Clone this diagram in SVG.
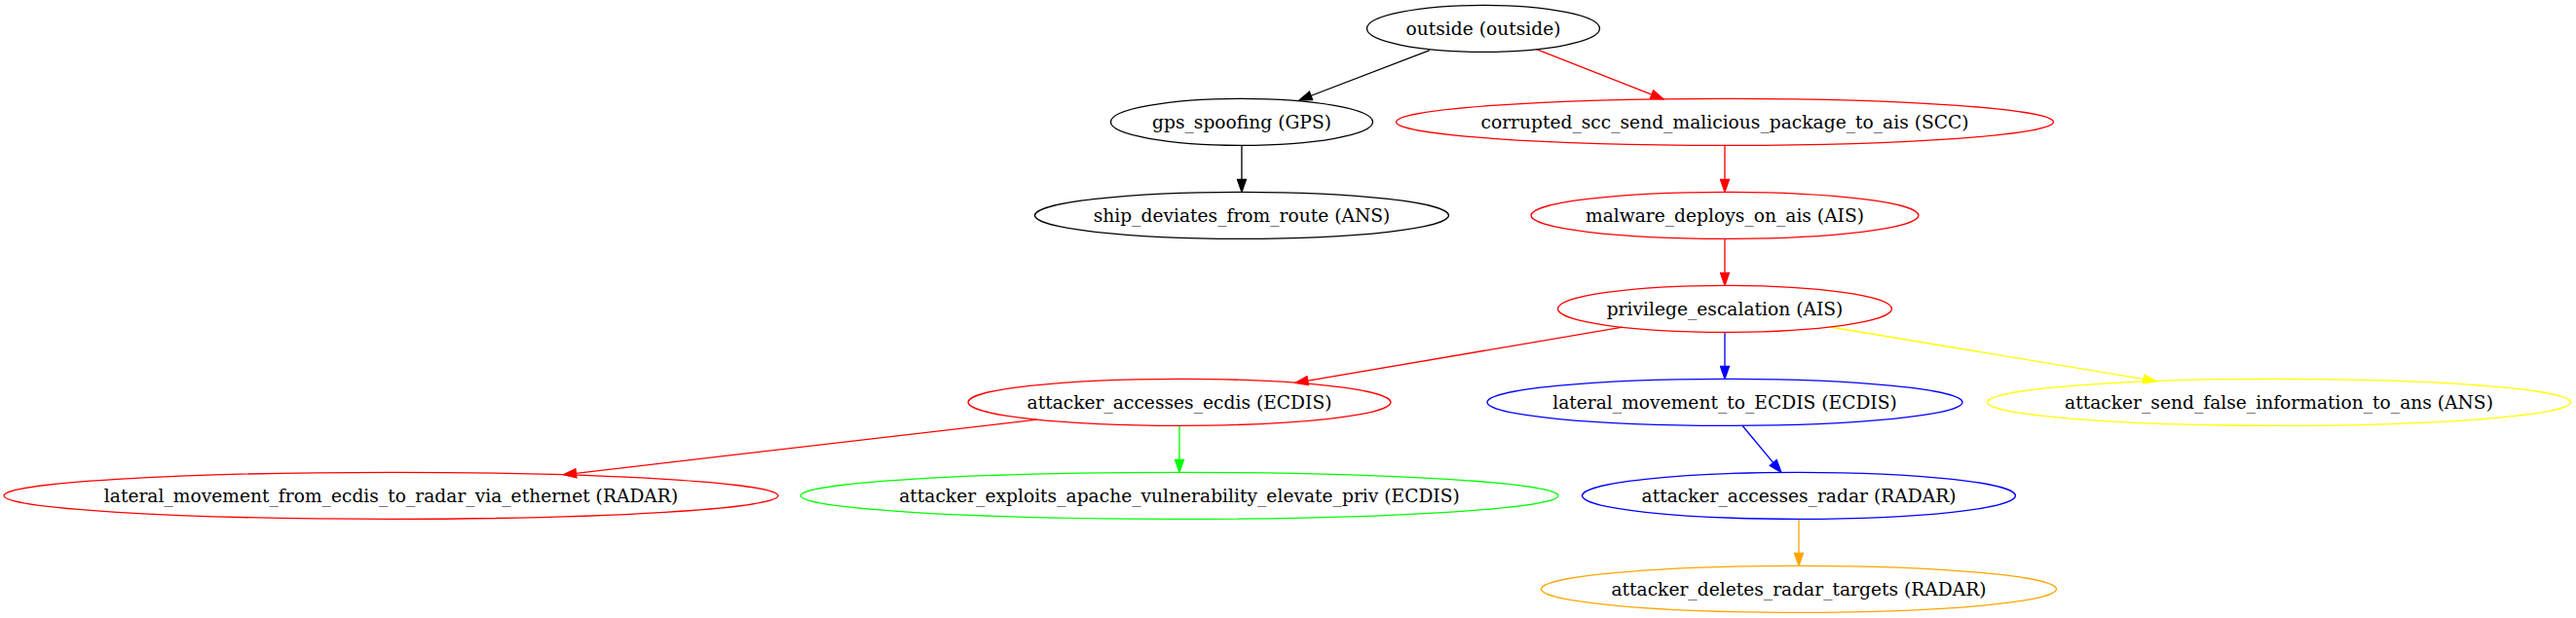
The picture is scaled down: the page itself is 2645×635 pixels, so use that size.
<svg xmlns="http://www.w3.org/2000/svg" width="2645" height="635" viewBox="0 0 2645 635">
<style>
  .n ellipse { fill: none; stroke-width: 1.33; }
  .n text { font-family: "DejaVu Serif", serif; font-size: 18.67px; text-anchor: middle; fill: #000; }
  .e { fill: none; stroke-width: 1.33; }
  .black { stroke: #000; }
  .red { stroke: #ff0000; }
  .green { stroke: #00ff00; }
  .blue { stroke: #0000ff; }
  .yellow { stroke: #ffff00; }
  .orange { stroke: #ffa500; }
</style>
<defs>
  <marker id="a-black" markerUnits="userSpaceOnUse" markerWidth="15" markerHeight="11" viewBox="-1 -1 15.33 11.33" refX="13.33" refY="4.67" orient="auto"><path d="M0,0 L13.33,4.67 L0,9.33 z" fill="#000" stroke="#000" stroke-width="1.33"/></marker>
  <marker id="a-red" markerUnits="userSpaceOnUse" markerWidth="15" markerHeight="11" viewBox="-1 -1 15.33 11.33" refX="13.33" refY="4.67" orient="auto"><path d="M0,0 L13.33,4.67 L0,9.33 z" fill="#ff0000" stroke="#ff0000" stroke-width="1.33"/></marker>
  <marker id="a-green" markerUnits="userSpaceOnUse" markerWidth="15" markerHeight="11" viewBox="-1 -1 15.33 11.33" refX="13.33" refY="4.67" orient="auto"><path d="M0,0 L13.33,4.67 L0,9.33 z" fill="#00ff00" stroke="#00ff00" stroke-width="1.33"/></marker>
  <marker id="a-blue" markerUnits="userSpaceOnUse" markerWidth="15" markerHeight="11" viewBox="-1 -1 15.33 11.33" refX="13.33" refY="4.67" orient="auto"><path d="M0,0 L13.33,4.67 L0,9.33 z" fill="#0000ff" stroke="#0000ff" stroke-width="1.33"/></marker>
  <marker id="a-yellow" markerUnits="userSpaceOnUse" markerWidth="15" markerHeight="11" viewBox="-1 -1 15.33 11.33" refX="13.33" refY="4.67" orient="auto"><path d="M0,0 L13.33,4.67 L0,9.33 z" fill="#ffff00" stroke="#ffff00" stroke-width="1.33"/></marker>
  <marker id="a-orange" markerUnits="userSpaceOnUse" markerWidth="15" markerHeight="11" viewBox="-1 -1 15.33 11.33" refX="13.33" refY="4.67" orient="auto"><path d="M0,0 L13.33,4.67 L0,9.33 z" fill="#ffa500" stroke="#ffa500" stroke-width="1.33"/></marker>
</defs>
<rect x="0" y="0" width="2645" height="635" fill="#fff"/>
<g id="connectors">
  <path class="e black" d="M1468,51.7 L1334,103" marker-end="url(#a-black)"/>
  <path class="e red" d="M1577.6,50.7 L1708,101.8" marker-end="url(#a-red)"/>
  <path class="e black" d="M1275,149.33 L1275,197.33" marker-end="url(#a-black)"/>
  <path class="e red" d="M1771,149.33 L1771,197.33" marker-end="url(#a-red)"/>
  <path class="e red" d="M1771,245.33 L1771,293.33" marker-end="url(#a-red)"/>
  <path class="e red" d="M1666,336.2 L1330,393.3" marker-end="url(#a-red)"/>
  <path class="e blue" d="M1771,341.33 L1771,389.33" marker-end="url(#a-blue)"/>
  <path class="e yellow" d="M1879,336 L2214,391.6" marker-end="url(#a-yellow)"/>
  <path class="e red" d="M1065,431.1 L578.6,487.8" marker-end="url(#a-red)"/>
  <path class="e green" d="M1211,437.33 L1211,485.33" marker-end="url(#a-green)"/>
  <path class="e blue" d="M1789,437.3 L1829,485.4" marker-end="url(#a-blue)"/>
  <path class="e orange" d="M1847,533.33 L1847,581.33" marker-end="url(#a-orange)"/>
</g>
<g id="outside" class="n"><ellipse class="black" cx="1523" cy="29.33" rx="119.5" ry="24"/><text x="1523" y="35.5">outside (outside)</text></g>
<g id="gps_spoofing" class="n"><ellipse class="black" cx="1275" cy="125.33" rx="134.5" ry="24"/><text x="1275" y="131.5">gps_spoofing (GPS)</text></g>
<g id="corrupted_scc_send_malicious_package_to_ais" class="n"><ellipse class="red" cx="1771" cy="125.33" rx="337.5" ry="24"/><text x="1771" y="131.5">corrupted_scc_send_malicious_package_to_ais (SCC)</text></g>
<g id="ship_deviates_from_route" class="n"><ellipse class="black" cx="1275" cy="221.33" rx="212.5" ry="24"/><text x="1275" y="227.5">ship_deviates_from_route (ANS)</text></g>
<g id="malware_deploys_on_ais" class="n"><ellipse class="red" cx="1771" cy="221.33" rx="199" ry="24"/><text x="1771" y="227.5">malware_deploys_on_ais (AIS)</text></g>
<g id="privilege_escalation" class="n"><ellipse class="red" cx="1771" cy="317.33" rx="171.5" ry="24"/><text x="1771" y="323.5">privilege_escalation (AIS)</text></g>
<g id="attacker_accesses_ecdis" class="n"><ellipse class="red" cx="1211" cy="413.33" rx="217" ry="24"/><text x="1211" y="419.5">attacker_accesses_ecdis (ECDIS)</text></g>
<g id="lateral_movement_to_ECDIS" class="n"><ellipse class="blue" cx="1771" cy="413.33" rx="244" ry="24"/><text x="1771" y="419.5">lateral_movement_to_ECDIS (ECDIS)</text></g>
<g id="attacker_send_false_information_to_ans" class="n"><ellipse class="yellow" cx="2340" cy="413.33" rx="299.5" ry="24"/><text x="2340" y="419.5">attacker_send_false_information_to_ans (ANS)</text></g>
<g id="lateral_movement_from_ecdis_to_radar_via_ethernet" class="n"><ellipse class="red" cx="401.5" cy="509.33" rx="397.5" ry="24"/><text x="401.5" y="515.5">lateral_movement_from_ecdis_to_radar_via_ethernet (RADAR)</text></g>
<g id="attacker_exploits_apache_vulnerability_elevate_priv" class="n"><ellipse class="green" cx="1211" cy="509.33" rx="389" ry="24"/><text x="1211" y="515.5">attacker_exploits_apache_vulnerability_elevate_priv (ECDIS)</text></g>
<g id="attacker_accesses_radar" class="n"><ellipse class="blue" cx="1847" cy="509.33" rx="222.5" ry="24"/><text x="1847" y="515.5">attacker_accesses_radar (RADAR)</text></g>
<g id="attacker_deletes_radar_targets" class="n"><ellipse class="orange" cx="1847" cy="605.33" rx="264.5" ry="24"/><text x="1847" y="611.5">attacker_deletes_radar_targets (RADAR)</text></g>
</svg>
